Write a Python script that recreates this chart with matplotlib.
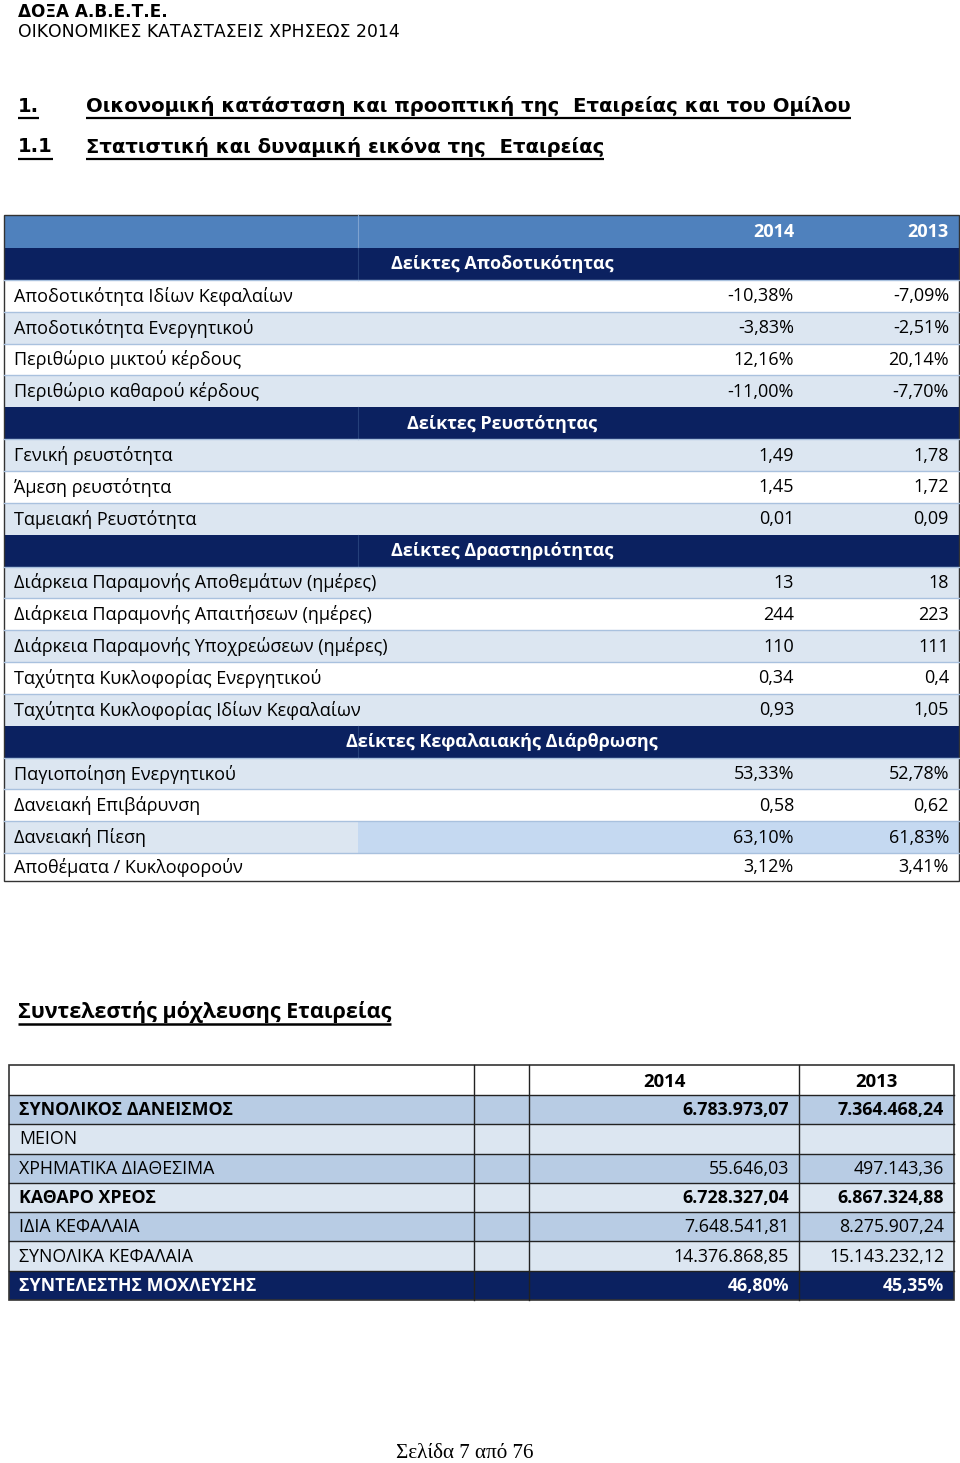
import matplotlib
matplotlib.use("Agg")
import matplotlib.pyplot as plt
from matplotlib.patches import Rectangle

# ---------------- data ----------------
company = "ΔΟΞΑ Α.Β.Ε.Τ.Ε."
subtitle = "ΟΙΚΟΝΟΜΙΚΕΣ ΚΑΤΑΣΤΑΣΕΙΣ ΧΡΗΣΕΩΣ 2014"
heading1 = ("1.", "Οικονομική κατάσταση και προοπτική της  Εταιρείας και του Ομίλου")
heading2 = ("1.1", "Στατιστική και δυναμική εικόνα της  Εταιρείας")
years = ["2014", "2013"]

sections = ["Δείκτες Αποδοτικότητας", "Δείκτες Ρευστότητας",
            "Δείκτες Δραστηριότητας", "Δείκτες Κεφαλαιακής Διάρθρωσης"]

profit_labels = ["Αποδοτικότητα Ιδίων Κεφαλαίων", "Αποδοτικότητα Ενεργητικού",
                 "Περιθώριο μικτού κέρδους", "Περιθώριο καθαρού κέρδους"]
profit_2014 = [-10.38, -3.83, 12.16, -11.00]
profit_2013 = [-7.09, -2.51, 20.14, -7.70]
profit_fmt = ["pct", "pct", "pct", "pct"]

liq_labels = ["Γενική ρευστότητα", "Άμεση ρευστότητα", "Ταμειακή Ρευστότητα"]
liq_2014 = [1.49, 1.45, 0.01]
liq_2013 = [1.78, 1.72, 0.09]
liq_fmt = ["gen", "gen", "gen"]

act_labels = ["Διάρκεια Παραμονής Αποθεμάτων (ημέρες)",
              "Διάρκεια Παραμονής Απαιτήσεων (ημέρες)",
              "Διάρκεια Παραμονής Υποχρεώσεων (ημέρες)",
              "Ταχύτητα Κυκλοφορίας Ενεργητικού",
              "Ταχύτητα Κυκλοφορίας Ιδίων Κεφαλαίων"]
act_2014 = [13, 244, 110, 0.34, 0.93]
act_2013 = [18, 223, 111, 0.4, 1.05]
act_fmt = ["int", "int", "int", "gen", "gen"]

cap_labels = ["Παγιοποίηση Ενεργητικού", "Δανειακή Επιβάρυνση",
              "Δανειακή Πίεση", "Αποθέματα / Κυκλοφορούν"]
cap_2014 = [53.33, 0.58, 63.10, 3.12]
cap_2013 = [52.78, 0.62, 61.83, 3.41]
cap_fmt = ["pct", "gen", "pct", "pct"]

lev_title = "Συντελεστής μόχλευσης Εταιρείας"
lev_labels = ["ΣΥΝΟΛΙΚΟΣ ΔΑΝΕΙΣΜΟΣ", "ΜΕΙΟΝ", "ΧΡΗΜΑΤΙΚΑ ΔΙΑΘΕΣΙΜΑ", "ΚΑΘΑΡΟ ΧΡΕΟΣ",
              "ΙΔΙΑ ΚΕΦΑΛΑΙΑ", "ΣΥΝΟΛΙΚΑ ΚΕΦΑΛΑΙΑ", "ΣΥΝΤΕΛΕΣΤΗΣ ΜΟΧΛΕΥΣΗΣ"]
lev_2014 = [6783973.07, None, 55646.03, 6728327.04, 7648541.81, 14376868.85, 46.80]
lev_2013 = [7364468.24, None, 497143.36, 6867324.88, 8275907.24, 15143232.12, 45.35]
lev_bold = [True, False, False, True, False, False, True]

footer = "Σελίδα 7 από 76"

# ---------------- helpers ----------------
def fmt_val(v, kind):
    if v is None:
        return ""
    if kind == "pct":
        return f"{v:.2f}%".replace(".", ",")
    if kind == "int":
        return f"{int(v)}"
    if kind == "gen":
        s = f"{v:.2f}".rstrip("0").rstrip(".")
        return s.replace(".", ",")
    if kind == "money":
        s = f"{v:,.2f}"
        return s.replace(",", "X").replace(".", ",").replace("X", ".")
    return str(v)

W, H = 960, 1463
fig = plt.figure(figsize=(W / 100, H / 100), dpi=100)
ax = fig.add_axes([0, 0, 1, 1])
ax.set_xlim(0, W)
ax.set_ylim(H, 0)
ax.axis("off")

SANS = ["Open Sans", "DejaVu Sans"]
VERD = ["DejaVu Sans"]

NAVY = "#0b2160"
STEEL = "#4f81bd"
LIGHT = "#dce6f1"
MID = "#b8cce4"
SEP = "#a9c1de"

def underline(t, dy=3, lw=1.6, color="black"):
    fig.canvas.draw()
    bb = t.get_window_extent()
    y = H - bb.y0 + dy
    ax.plot([bb.x0, bb.x1], [y - 4, y - 4], color=color, lw=lw, solid_capstyle="butt")

# ---------------- page header ----------------
ax.text(18, 12, company, fontsize=12.2, fontweight="bold", family=VERD, va="center", color="black")
ax.text(18, 32, subtitle, fontsize=12.4, family=VERD, va="center", color="black")

for (num, txt), yc in zip([heading1, heading2], [106, 147]):
    t1 = ax.text(18, yc, num, fontsize=14.1, fontweight="bold", family=VERD, va="center")
    t2 = ax.text(86, yc, txt, fontsize=14.1, fontweight="bold", family=VERD, va="center")
    underline(t1, dy=6)
    underline(t2, dy=6)

# ---------------- table 1 ----------------
X0, X1, XC = 4, 959, 358
V14, V13 = 794, 949
FS = 13.0

# header row
ax.add_patch(Rectangle((X0, 215), X1 - X0, 33, facecolor=STEEL, edgecolor="none"))
ax.plot([XC, XC], [215, 248], color="#7fa3d0", lw=0.8)
ax.text(V14, 232, years[0], fontsize=FS, fontweight="bold", color="white", family=SANS, ha="right", va="center")
ax.text(V13, 232, years[1], fontsize=FS, fontweight="bold", color="white", family=SANS, ha="right", va="center")

blocks = [
    (profit_labels, profit_2014, profit_2013, profit_fmt),
    (liq_labels, liq_2014, liq_2013, liq_fmt),
    (act_labels, act_2014, act_2013, act_fmt),
    (cap_labels, cap_2014, cap_2013, cap_fmt),
]
RH = 31.85
y = 248
for si, (sec, (labels, v14, v13, fmts)) in enumerate(zip(sections, blocks)):
    ax.add_patch(Rectangle((X0, y), X1 - X0, RH, facecolor=NAVY, edgecolor="none"))
    ax.plot([XC, XC], [y, y + RH], color="#25407a", lw=0.8)
    ax.text(502, y + RH / 2 + 0.5, sec, fontsize=FS, fontweight="bold", color="white",
            family=SANS, ha="center", va="center")
    y += RH
    for i, lab in enumerate(labels):
        shaded = (i % 2 == 1) if si == 0 else (i % 2 == 0)
        h = RH if not (si == 3 and i == len(labels) - 1) else 27.5
        ax.add_patch(Rectangle((X0, y), X1 - X0, h, facecolor=LIGHT if shaded else "white",
                               edgecolor="none"))
        if si == 3 and i == 2:
            ax.add_patch(Rectangle((XC, y), X1 - XC, h, facecolor="#c5d9f1", edgecolor="none"))
        ax.plot([X0, X1], [y, y], color=SEP, lw=1.0)
        yc = y + h / 2 + 0.5
        ax.text(14, yc, lab, fontsize=FS, family=SANS, ha="left", va="center", color="black")
        ax.text(V14, yc, fmt_val(v14[i], fmts[i]), fontsize=FS, family=SANS, ha="right",
                va="center", color="black")
        ax.text(V13, yc, fmt_val(v13[i], fmts[i]), fontsize=FS, family=SANS, ha="right",
                va="center", color="black")
        y += h
ax.add_patch(Rectangle((X0, 215), X1 - X0, y - 215, facecolor="none", edgecolor="#333333", lw=1.0))

# ---------------- leverage section ----------------
tt = ax.text(18, 1012, lev_title, fontsize=15.5, fontweight="bold", family=SANS, va="center")
underline(tt, dy=5, lw=1.8)

L0, LA, LB, LC, L1 = 9, 474, 529, 799, 954
top = 1065
hh = 30
rh = 29.3
FS2 = 12.8
ax.add_patch(Rectangle((L0, top), L1 - L0, hh, facecolor="white", edgecolor="none"))
ax.text((LB + LC) / 2, top + hh / 2 + 2, years[0], fontsize=FS2 + 0.5, fontweight="bold",
        family=SANS, ha="center", va="center")
ax.text((LC + L1) / 2, top + hh / 2 + 2, years[1], fontsize=FS2 + 0.5, fontweight="bold",
        family=SANS, ha="center", va="center")
yy = top + hh
for i, lab in enumerate(lev_labels):
    last = i == len(lev_labels) - 1
    fc = NAVY if last else (MID if i % 2 == 0 else LIGHT)
    tc = "white" if last else "black"
    ax.add_patch(Rectangle((L0, yy), L1 - L0, rh, facecolor=fc, edgecolor="none"))
    ax.plot([L0, L1], [yy, yy], color="#222222", lw=1.0)
    w = "bold" if lev_bold[i] else "normal"
    kind = "pct" if last else "money"
    yc = yy + rh / 2 + 0.5
    ax.text(19, yc, lab, fontsize=FS2, fontweight=w, family=SANS, color=tc, ha="left", va="center")
    ax.text(789, yc, fmt_val(lev_2014[i], kind), fontsize=FS2, fontweight=w, family=SANS,
            color=tc, ha="right", va="center")
    ax.text(944, yc, fmt_val(lev_2013[i], kind), fontsize=FS2, fontweight=w, family=SANS,
            color=tc, ha="right", va="center")
    yy += rh
for xv in [LA, LB, LC]:
    ax.plot([xv, xv], [top, yy], color="#222222", lw=1.0)
ax.add_patch(Rectangle((L0, top), L1 - L0, yy - top, facecolor="none", edgecolor="#333333", lw=1.2))

# ---------------- footer ----------------
ax.text(465, 1454, footer, fontsize=15.2, family=["Liberation Serif", "DejaVu Serif"],
        ha="center", va="center", color="black")

fig.savefig("out.png", dpi=100, facecolor="white")
